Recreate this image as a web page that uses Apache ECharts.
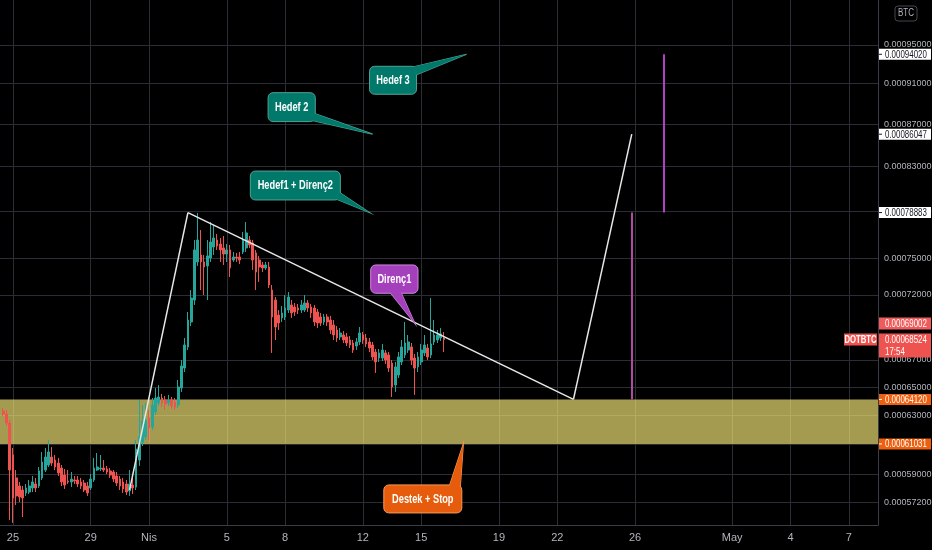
<!DOCTYPE html>
<html><head><meta charset="utf-8">
<script src="https://cdn.jsdelivr.net/npm/echarts@6/dist/echarts.min.js"></script>
<style>html,body{margin:0;padding:0;background:#000;}#c{width:932px;height:550px;}</style>
</head><body><div id="c"></div>
<script>
// ---------- data ----------
const slotStart = Date.UTC(2021, 2, 24, 8);   // first 4h slot of the time axis
const slotHours = 4;
const slotCount = 272;
const firstCandleSlot = 1;                    // first candle = 2021-03-24 12:00

const tickDates = ['2021-03-25 00:00','2021-03-29 00:00','2021-04-01 00:00','2021-04-05 00:00','2021-04-08 00:00','2021-04-12 00:00','2021-04-15 00:00','2021-04-19 00:00','2021-04-22 00:00','2021-04-26 00:00','2021-05-01 00:00','2021-05-04 00:00','2021-05-07 00:00'];
const tickTexts = ['25','29','Nis','5','8','12','15','19','22','26','May','4','7'];
const yTicks = [0.00095,0.00091,0.00087,0.00083,0.00079,0.00075,0.00072,0.00067,0.00065,0.00063,0.00061,0.00059,0.000572];
const yMin = 0.00055783, yMax = 0.00099854;

const openP = [
0.0006330,0.0006309,0.0006246,0.0006029,0.0005877,0.0005825,0.0005799,0.0005780,0.0005786,0.0005812,
0.0005838,0.0005825,0.0005877,0.0005929,0.0005962,0.0006015,0.0005995,0.0005975,0.0005942,0.0005896,
0.0005857,0.0005851,0.0005864,0.0005864,0.0005851,0.0005844,0.0005825,0.0005812,0.0005864,0.0005929,
0.0005936,0.0005942,0.0005936,0.0005923,0.0005916,0.0005890,0.0005870,0.0005851,0.0005838,0.0005793,
0.0005831,0.0005818,0.0005995,0.0006116,0.0006150,0.0006281,0.0006219,0.0006323,0.0006387,0.0006422,
0.0006408,0.0006387,0.0006408,0.0006394,0.0006372,0.0006494,0.0006639,0.0006796,0.0006987,0.0007159,
0.0007468,0.0007526,0.0007468,0.0007435,0.0007501,0.0007593,0.0007652,0.0007618,0.0007585,0.0007534,
0.0007568,0.0007484,0.0007509,0.0007509,0.0007551,0.0007585,0.0007652,0.0007627,0.0007543,0.0007484,
0.0007443,0.0007418,0.0007426,0.0007239,0.0007159,0.0007041,0.0007018,0.0007026,0.0007080,0.0007120,
0.0007104,0.0007096,0.0007080,0.0007080,0.0007136,0.0007104,0.0007096,0.0007065,0.0007026,0.0006987,
0.0007026,0.0007002,0.0006964,0.0006925,0.0006872,0.0006887,0.0006872,0.0006849,0.0006826,0.0006803,
0.0006834,0.0006887,0.0006864,0.0006834,0.0006811,0.0006758,0.0006713,0.0006713,0.0006751,0.0006736,
0.0006676,0.0006515,0.0006588,0.0006684,0.0006736,0.0006773,0.0006796,0.0006713,0.0006647,0.0006684,
0.0006751,0.0006788,0.0006736,0.0006834,0.0006849,0.0006864,0.0006864];
const closeP = [
0.0006309,0.0006246,0.0005929,0.0005748,0.0005761,0.0005754,0.0005748,0.0005812,0.0005825,0.0005851,
0.0005812,0.0005923,0.0005982,0.0006015,0.0006049,0.0005975,0.0005949,0.0005910,0.0005851,0.0005831,
0.0005851,0.0005870,0.0005857,0.0005838,0.0005825,0.0005799,0.0005780,0.0005870,0.0005942,0.0005949,
0.0005942,0.0005929,0.0005916,0.0005896,0.0005870,0.0005844,0.0005825,0.0005806,0.0005786,0.0005838,
0.0005812,0.0006069,0.0006150,0.0006260,0.0006267,0.0006212,0.0006372,0.0006422,0.0006429,0.0006387,
0.0006380,0.0006408,0.0006365,0.0006358,0.0006501,0.0006654,0.0006811,0.0007002,0.0007175,0.0007568,
0.0007652,0.0007468,0.0007426,0.0007518,0.0007635,0.0007669,0.0007601,0.0007568,0.0007534,0.0007568,
0.0007418,0.0007509,0.0007501,0.0007484,0.0007652,0.0007712,0.0007610,0.0007484,0.0007385,0.0007426,
0.0007418,0.0007443,0.0007280,0.0007026,0.0006948,0.0006979,0.0007057,0.0007096,0.0007183,0.0007057,
0.0007065,0.0007080,0.0007120,0.0007136,0.0007096,0.0007057,0.0006987,0.0006979,0.0006979,0.0007026,
0.0006987,0.0006925,0.0006887,0.0006864,0.0006902,0.0006849,0.0006826,0.0006811,0.0006773,0.0006834,
0.0006902,0.0006849,0.0006819,0.0006788,0.0006721,0.0006684,0.0006751,0.0006773,0.0006698,0.0006639,
0.0006501,0.0006647,0.0006721,0.0006796,0.0006826,0.0006834,0.0006698,0.0006639,0.0006721,0.0006773,
0.0006811,0.0006721,0.0006819,0.0006887,0.0006887,0.0006895,0.00068524];
const highP = [
0.0006351,0.0006337,0.0006267,0.0006076,0.0005929,0.0005851,0.0005825,0.0005838,0.0005864,0.0005890,
0.0005877,0.0005949,0.0006049,0.0006076,0.0006130,0.0006082,0.0006029,0.0006009,0.0005962,0.0005936,
0.0005929,0.0005916,0.0005890,0.0005890,0.0005877,0.0005864,0.0005851,0.0005903,0.0006009,0.0006042,
0.0006029,0.0005995,0.0005956,0.0005942,0.0005929,0.0005916,0.0005890,0.0005877,0.0005864,0.0005929,
0.0005877,0.0006130,0.0006408,0.0006372,0.0006387,0.0006337,0.0006422,0.0006494,0.0006515,0.0006451,
0.0006436,0.0006444,0.0006429,0.0006422,0.0006552,0.0006698,0.0006864,0.0007065,0.0007239,0.0007652,
0.0007885,0.0007737,0.0007526,0.0007652,0.0007806,0.0007780,0.0007703,0.0007669,0.0007686,0.0007618,
0.0007610,0.0007551,0.0007543,0.0007551,0.0007720,0.0007806,0.0007686,0.0007652,0.0007568,0.0007518,
0.0007468,0.0007468,0.0007468,0.0007280,0.0007183,0.0007080,0.0007112,0.0007199,0.0007223,0.0007159,
0.0007136,0.0007128,0.0007159,0.0007199,0.0007159,0.0007128,0.0007120,0.0007088,0.0007057,0.0007049,
0.0007049,0.0007034,0.0007002,0.0006956,0.0006940,0.0006917,0.0006902,0.0006879,0.0006849,0.0006864,
0.0006948,0.0006910,0.0006895,0.0006864,0.0006834,0.0006781,0.0006781,0.0006819,0.0006773,0.0006758,
0.0006698,0.0006684,0.0006758,0.0006849,0.0006987,0.0006887,0.0006826,0.0006743,0.0006758,0.0006819,
0.0006887,0.0006819,0.0007175,0.0007002,0.0006925,0.0006940,0.0006910];
const lowP = [
0.0006295,0.0006226,0.0005609,0.0005591,0.0005703,0.0005722,0.0005628,0.0005761,0.0005773,0.0005786,
0.0005786,0.0005812,0.0005864,0.0005916,0.0005949,0.0005956,0.0005929,0.0005890,0.0005825,0.0005806,
0.0005838,0.0005818,0.0005838,0.0005818,0.0005806,0.0005786,0.0005761,0.0005799,0.0005851,0.0005923,
0.0005923,0.0005916,0.0005903,0.0005877,0.0005851,0.0005825,0.0005799,0.0005780,0.0005767,0.0005761,
0.0005773,0.0005799,0.0005956,0.0006089,0.0006130,0.0006130,0.0006198,0.0006302,0.0006365,0.0006358,
0.0006337,0.0006365,0.0006344,0.0006337,0.0006351,0.0006465,0.0006610,0.0006773,0.0006956,0.0007120,
0.0007435,0.0007239,0.0007199,0.0007159,0.0007468,0.0007526,0.0007568,0.0007468,0.0007443,0.0007468,
0.0007344,0.0007468,0.0007468,0.0007451,0.0007534,0.0007551,0.0007585,0.0007402,0.0007239,0.0007304,
0.0007385,0.0007402,0.0007255,0.0006751,0.0006849,0.0006925,0.0006987,0.0007002,0.0007057,0.0007018,
0.0007034,0.0007049,0.0007057,0.0007065,0.0007065,0.0007018,0.0006956,0.0006940,0.0006956,0.0006964,
0.0006956,0.0006895,0.0006849,0.0006834,0.0006849,0.0006826,0.0006803,0.0006788,0.0006751,0.0006773,
0.0006811,0.0006819,0.0006796,0.0006758,0.0006698,0.0006603,0.0006684,0.0006691,0.0006669,0.0006610,
0.0006429,0.0006465,0.0006566,0.0006661,0.0006713,0.0006751,0.0006661,0.0006444,0.0006610,0.0006661,
0.0006728,0.0006698,0.0006713,0.0006811,0.0006826,0.0006841,0.0006758];

// horizontal levels
const targetLevels = [0.00094020, 0.00086047, 0.00078883];
const targetTexts  = ['0.00094020','0.00086047','0.00078883'];
const zoneTop = 0.00064120, zoneBottom = 0.00061031;
const zoneTexts = ['0.00064120','0.00061031'];
const lastPrice = 0.00068524, lastPriceText = '0.00068524', countdown = '17:54';
const markPrice = 0.00069002, markPriceText = '0.00069002';
const symbolName = 'DOTBTC';

// drawn trend lines  [time, price] -> [time, price]
const trendLines = [
  [['2021-03-31 00:00', 0.000580], ['2021-04-03 00:00', 0.00078883]],
  [['2021-04-03 00:00', 0.00078883], ['2021-04-22 20:00', 0.0006412]],
  [['2021-04-22 20:00', 0.0006412], ['2021-04-25 20:00', 0.00086047]]
];
const rangeLines = [
  {from:['2021-04-27 12:00', 0.00094020], to:['2021-04-27 12:00', 0.00078883], color:'#b03ec6'},
  {from:['2021-04-25 20:00', 0.00078883], to:['2021-04-25 20:00', 0.00064120], color:'#b04a9e'}
];
// callouts: text, tip [time, price]
const calloutTexts = ['Hedef 3','Hedef 2','Hedef1 + Direnç2','Direnç1','Destek + Stop'];
const calloutTips = [['2021-04-17 08:00',0.00094020],['2021-04-12 12:00',0.00086047],['2021-04-12 08:00',0.00078883],['2021-04-14 16:00',0.0006977],['2021-04-17 04:00',0.00061031]];

// ---------- build ----------
const pad = n => (n < 10 ? '0' : '') + n;
const fmt = t => { const d = new Date(t); return d.getUTCFullYear()+'-'+pad(d.getUTCMonth()+1)+'-'+pad(d.getUTCDate())+' '+pad(d.getUTCHours())+':00'; };
const categories = [];
for (let i = 0; i < slotCount; i++) categories.push(fmt(slotStart + i * slotHours * 3600000));
const candleData = categories.map((c, j) => {
  const k = j - firstCandleSlot;
  return (k >= 0 && k < openP.length) ? [openP[k], closeP[k], lowP[k], highP[k]] : '-';
});
const tickSet = {}; tickDates.forEach((d, i) => tickSet[d] = tickTexts[i]);
const FONT = "'Liberation Sans', Arial, sans-serif";
const GRID = '#2a2d36';

const chart = echarts.init(document.getElementById('c'));
const option = {
  backgroundColor: '#000',
  animation: false,
  grid: {left: 0, right: 54, top: 0, bottom: 25, containLabel: false, outerBoundsMode: 'none'},
  xAxis: {
    type: 'category', data: categories, boundaryGap: false,
    axisLine: {show: true, lineStyle: {color: '#3a3d46'}},
    axisTick: {show: false},
    axisLabel: {interval: (i, v) => tickSet[v] !== undefined, formatter: v => tickSet[v] || '', color: '#b2b5be', fontSize: 11, fontFamily: FONT, margin: 7},
    splitLine: {show: true, interval: (i, v) => tickSet[v] !== undefined, lineStyle: {color: GRID, width: 1}}
  },
  yAxis: {
    type: 'log', logBase: 10, position: 'right', min: yMin, max: yMax,
    axisLine: {show: true, lineStyle: {color: '#3a3d46'}},
    axisTick: {show: false, customValues: yTicks},
    axisLabel: {customValues: yTicks, formatter: v => Number(v).toFixed(8), color: '#b2b5be', fontSize: 9, fontFamily: FONT, margin: 6},
    splitLine: {show: true, lineStyle: {color: GRID, width: 1}}
  },
  series: [
    { type: 'line', data: [], z: 1, silent: true,
      markArea: {silent: true, itemStyle: {color: 'rgba(254,238,123,0.65)'}, data: [[{yAxis: zoneBottom}, {yAxis: zoneTop}]]},
      markLine: {silent: true, symbol: 'none', label: {show: false},
        data: [
          {yAxis: zoneTop, lineStyle: {color: '#ec5b0c', width: 2, type: 'solid'}},
          {yAxis: zoneBottom, lineStyle: {color: '#ec5b0c', width: 2, type: 'solid'}},
          {yAxis: markPrice, lineStyle: {color: '#5d606b', width: 1, type: [2, 2]}},
          {yAxis: lastPrice, lineStyle: {color: '#c4443f', width: 1, type: [1, 2]}}
        ]}
    },
    { type: 'candlestick', z: 2, data: candleData, barWidth: 2.2,
      itemStyle: {color: '#26a69a', color0: '#ef5350', borderColor: '#26a69a', borderColor0: '#ef5350', borderWidth: 1} },
    { type: 'line', data: [], z: 3, silent: true,
      markLine: {silent: true, symbol: 'none', label: {show: false},
        data: targetLevels.map(v => ({yAxis: v, lineStyle: {color: '#e8e8e8', width: 2, type: 'solid'}}))
          .concat(trendLines.map(l => [{coord: l[0], lineStyle: {color: '#e8e8e8', width: 1.5, type: 'solid'}}, {coord: l[1]}]))
          .concat(rangeLines.map(r => [{coord: r.from, lineStyle: {color: r.color, width: 2, type: 'solid'}}, {coord: r.to}]))
      }
    }
  ]
};
chart.setOption(option);

// ---------- overlays placed through the chart's own scales ----------
const yPx = v => chart.convertToPixel({yAxisIndex: 0}, v);
const ptPx = p => chart.convertToPixel({xAxisIndex: 0, yAxisIndex: 0}, p);
const g = [];
const axisX = 879, tagW = 52, SX = 0.72;
function txt(x, y, text, fill, size, bold, align, sx) {
  g.push({type: 'text', z: 101, x: x, y: y, scaleX: sx || SX,
    style: {text: text, fill: fill, fontSize: size, fontFamily: FONT, fontWeight: bold ? 'bold' : 'normal', align: align || 'left', verticalAlign: 'middle'}});
}
function tag(cy, h, text, bg, fg) {
  g.push({type: 'rect', z: 100, shape: {x: axisX, y: cy - h / 2, width: tagW, height: h}, style: {fill: bg}});
  g.push({type: 'rect', z: 100, shape: {x: axisX, y: cy - 0.5, width: 3, height: 1}, style: {fill: fg}});
  txt(axisX + 6, cy + 0.5, text, fg, 11);
}
targetLevels.forEach((v, i) => tag(yPx(v), 11, targetTexts[i], '#ffffff', '#131722'));
tag(yPx(zoneTop), 11, zoneTexts[0], '#ee5f0f', '#ffffff');
tag(yPx(zoneBottom), 11, zoneTexts[1], '#ee5f0f', '#ffffff');
const py = yPx(lastPrice);
g.push({type: 'rect', z: 100, shape: {x: axisX, y: py - 6, width: tagW, height: 24}, style: {fill: '#ef5350'}});
txt(axisX + 6, py + 0.5, lastPriceText, '#fff', 11);
txt(axisX + 6, py + 12, countdown, '#fff', 11);
g.push({type: 'rect', z: 100, shape: {x: axisX, y: py - 22, width: tagW, height: 12}, style: {fill: '#f05b5b'}});
txt(axisX + 6, py - 15.5, markPriceText, '#fff', 11);
g.push({type: 'rect', z: 100, shape: {x: 844, y: py - 6, width: 33, height: 12}, style: {fill: '#ef5350'}});
txt(860.5, py + 0.5, symbolName, '#fff', 11, true, 'center', 0.7);
// BTC unit badge
g.push({type: 'rect', z: 100, shape: {x: 895, y: 6, width: 22, height: 15, r: 3}, style: {fill: '#000', stroke: '#434651', lineWidth: 1}});
txt(906, 13.5, 'BTC', '#b2b5be', 10, false, 'center', 0.8);

// callout shapes relative to their tips
const calloutStyle = [
  {box: [-97, 12, -50, 40], tail: [[-57, 13.5], [-51.5, 21]], fill: '#00796b', stroke: '#4fa397'},
  {box: [-104.5, -41.5, -57.3, -12.6], tail: [[-58.8, -21], [-62, -14.1]], fill: '#00796b', stroke: '#4fa397'},
  {box: [-119, -41.5, -29, -12.6], tail: [[-30.5, -20.5], [-34.5, -14.1]], fill: '#00796b', stroke: '#4fa397'},
  {box: [-44, -58.3, 3.3, -30], tail: [[-25, -31.5], [-14, -31.5]], fill: '#a540bd', stroke: '#cf86dc'},
  {box: [-79.5, 41, -1.5, 69], tail: [[-14, 42.5], [-3, 42.5]], fill: '#e65c0c', stroke: '#f59a5a'}
];
calloutTips.forEach((tip, i) => {
  const p = ptPx(tip), s = calloutStyle[i];
  const tri = [[p[0] + s.tail[0][0], p[1] + s.tail[0][1]], [p[0] + s.tail[1][0], p[1] + s.tail[1][1]], [p[0], p[1]]];
  g.push({type: 'polygon', z: 110, shape: {points: tri}, style: {fill: s.fill, stroke: s.stroke, lineWidth: 1.2}});
  g.push({type: 'rect', z: 111, shape: {x: p[0] + s.box[0], y: p[1] + s.box[1], width: s.box[2] - s.box[0], height: s.box[3] - s.box[1], r: 5},
    style: {fill: s.fill, stroke: s.stroke, lineWidth: 1}});
  g.push({type: 'polygon', z: 112, shape: {points: tri}, style: {fill: s.fill}});
  g.push({type: 'text', z: 113, x: p[0] + (s.box[0] + s.box[2]) / 2, y: p[1] + (s.box[1] + s.box[3]) / 2 + 0.5, scaleX: 0.74,
    style: {text: calloutTexts[i], fill: '#fff', fontSize: 12.5, fontWeight: 'bold', fontFamily: FONT, align: 'center', verticalAlign: 'middle'}});
});
chart.setOption({graphic: {elements: g}});
</script></body></html>
